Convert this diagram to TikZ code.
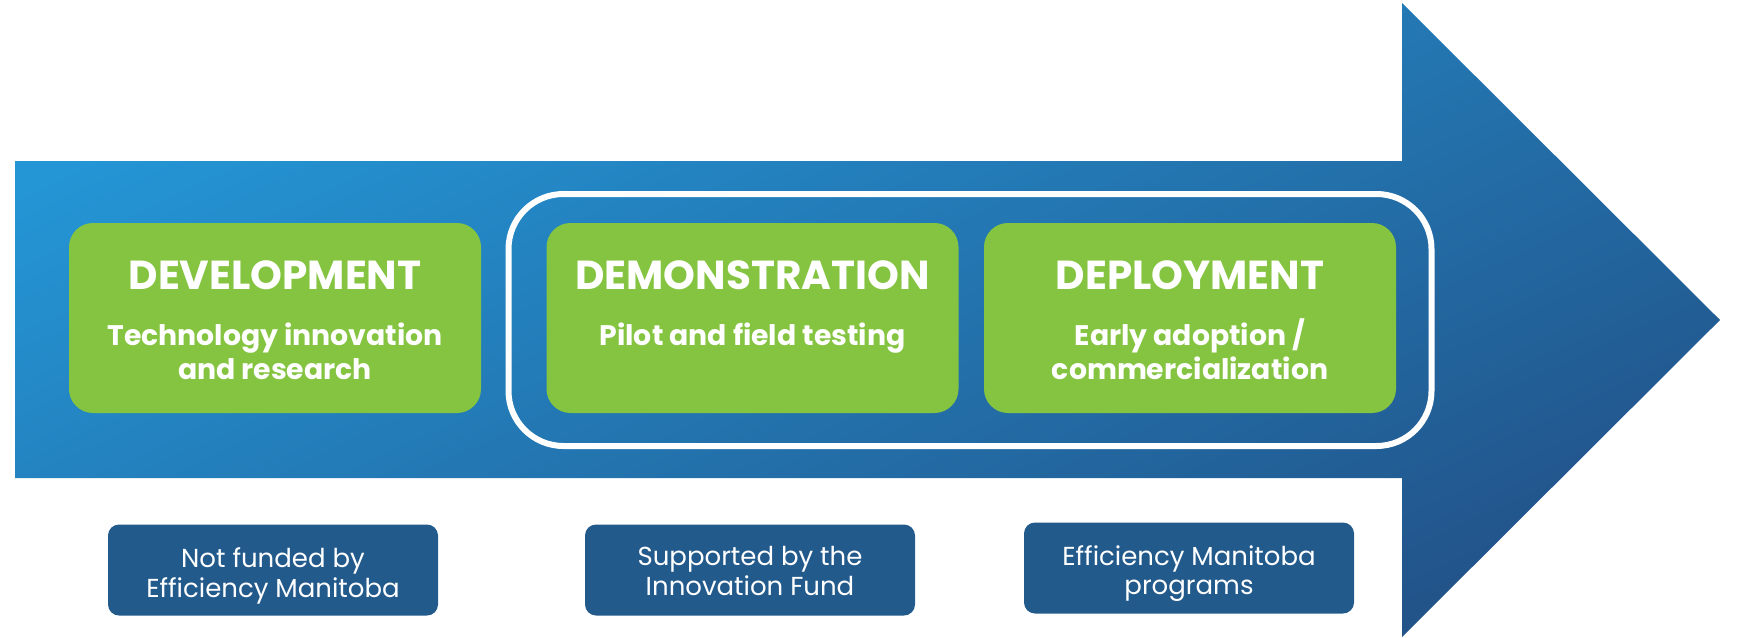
\documentclass[tikz,border=0pt]{standalone}
\usepackage{fontspec}
\setmainfont{Poppins}
\begin{document}
\begin{tikzpicture}[x=1pt,y=-1pt,
  stage/.style={fill=emgreen,rounded corners=24pt,minimum width=412pt,minimum height=190pt,inner sep=0pt},
  note/.style={fill=emdark,rounded corners=11pt,minimum width=330pt,minimum height=91pt,inner sep=0pt},
  ttl/.style={text=white,font=\bfseries\fontsize{40.5}{44}\selectfont,anchor=base,inner sep=0pt},
  sub/.style={text=white,font=\bfseries\fontsize{28.3}{32}\selectfont,anchor=base,inner sep=0pt},
  ntxt/.style={text=white,font=\fontsize{26}{30}\selectfont,anchor=base,inner sep=0pt}]
\definecolor{emgreen}{HTML}{84C441}
\definecolor{emdark}{HTML}{235A8C}
\definecolor{emlight}{HTML}{2496D6}
\definecolor{emdeep}{HTML}{22548A}
\useasboundingbox (0,0) rectangle (1742,637);
% arrow
\shade[top color=emlight,bottom color=emdeep,shading angle=25]
  (15,161) -- (1402,161) -- (1402,3) -- (1720,320) -- (1402,637) -- (1402,478) -- (15,478) -- cycle;
% outer frame
\node (frame) [draw=white,line width=6pt,rounded corners=55pt,minimum width=923pt,minimum height=252pt,inner sep=0pt] at (970,320) {};
% stages
\node (dev) [stage] at (275,318) {};
\node (demo) [stage] at (752.5,318) {};
\node (dep) [stage] at (1190,318) {};
\node (devt) [ttl] at (275,289) {DEVELOPMENT};
\node (devs1) [sub] at (275,345) {Technology innovation};
\node (devs2) [sub] at (275,379) {and research};
\node (demot) [ttl] at (752.5,289) {DEMONSTRATION};
\node (demos1) [sub] at (752.5,345) {Pilot and field testing};
\node (dept) [ttl] at (1190,289) {DEPLOYMENT};
\node (deps1) [sub] at (1190,345) {Early adoption /};
\node (deps2) [sub] at (1190,379) {commercialization};
% notes
\node (n1) [note] at (273,570) {};
\node (n2) [note] at (750,570) {};
\node (n3) [note] at (1189,568) {};
\node (n1a) [ntxt] at (273,567) {Not funded by};
\node (n1b) [ntxt] at (273,597) {Efficiency Manitoba};
\node (n2a) [ntxt] at (750,565) {Supported by the};
\node (n2b) [ntxt] at (750,595) {Innovation Fund};
\node (n3a) [ntxt] at (1189,565) {Efficiency Manitoba};
\node (n3b) [ntxt] at (1189,594) {programs};
\end{tikzpicture}
\end{document}
